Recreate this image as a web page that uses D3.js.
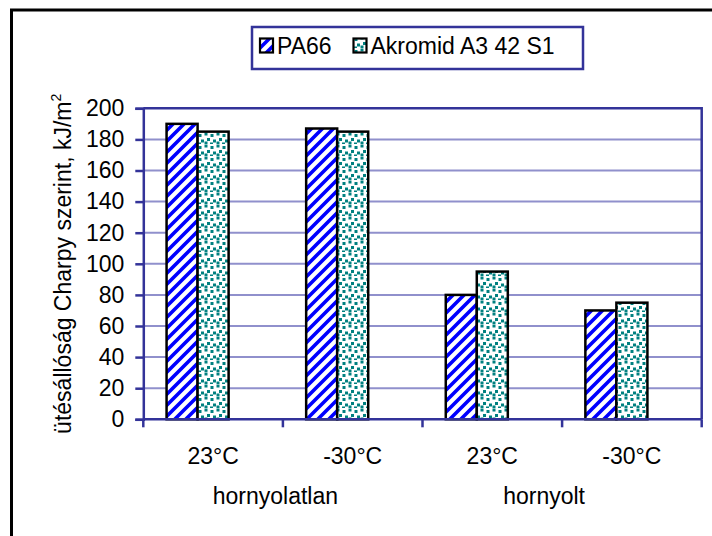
<!DOCTYPE html>
<html>
<head>
<meta charset="utf-8">
<script src="https://cdn.jsdelivr.net/npm/d3@7"></script>
<style>
  html, body { margin: 0; padding: 0; background: #fff; }
  svg { display: block; font-family: Arial, "Liberation Sans", sans-serif; }
</style>
</head>
<body>
<svg id="chart" width="712" height="536"></svg>
<script>
// ---- data ----
const categories = ["23°C", "-30°C", "23°C", "-30°C"];
const groups = [
  { label: "hornyolatlan", from: 0, to: 1 },
  { label: "hornyolt", from: 2, to: 3 }
];
const seriesNames = ["PA66", "Akromid A3 42 S1"];
const pa66 = [190, 187, 80, 70];
const akromid = [185, 185, 95, 75];
const yTicks = [0, 20, 40, 60, 80, 100, 120, 140, 160, 180, 200];
const yTitle = "ütésállóság Charpy szerint, kJ/m";
const yTitleSup = "2";

// ---- layout ----
const W = 712, H = 536;
const plot = { left: 143.3, right: 701.7, top: 108.3, bottom: 419.3 };
const axisColor = "#333399";
const gridColor = "#9090CC";
const fontSize = 23;

const svg = d3.select("#chart");
const defs = svg.append("defs");

// diagonal stripe pattern (PA66)
const stripe = defs.append("pattern")
  .attr("id", "stripe").attr("patternUnits", "userSpaceOnUse")
  .attr("width", 11).attr("height", 11);
stripe.append("rect").attr("width", 11).attr("height", 11).attr("fill", "#fff");
stripe.append("path")
  .attr("d", "M-2,2 L2,-2 M0,11 L11,0 M9,13 L13,9")
  .attr("stroke", "#0000FF").attr("stroke-width", 3.6);

// dotted pattern (Akromid)
const dots = defs.append("pattern")
  .attr("id", "dots").attr("patternUnits", "userSpaceOnUse")
  .attr("width", 12).attr("height", 12);
dots.append("rect").attr("width", 12).attr("height", 12).attr("fill", "#fff");
const dotPos = [[0.5, 0.5], [6.5, 2], [3, 6], [9, 7.5], [0.5, 9.5], [6, 10.5]];
dots.selectAll("rect.d").data(dotPos).enter().append("rect")
  .attr("class", "d").attr("x", d => d[0]).attr("y", d => d[1])
  .attr("width", 3).attr("height", 3).attr("fill", "#008080");

const fills = ["url(#stripe)", "url(#dots)"];

// chart border
svg.append("rect").attr("x", 11.5).attr("y", 10).attr("width", 730).attr("height", 560)
  .attr("fill", "none").attr("stroke", "#000").attr("stroke-width", 3);

// scales
const x = d3.scaleBand().domain(d3.range(categories.length))
  .range([plot.left, plot.right]).paddingInner(0).paddingOuter(0);
// Excel layout: three series slots per category (third slot empty), gap width 150%
const slotCount = 3;
const xs = d3.scaleBand().domain(d3.range(slotCount))
  .range([0, x.bandwidth()]).paddingInner(0).paddingOuter(0.75);
const y = d3.scaleLinear().domain([0, 200]).range([plot.bottom, plot.top]);

// gridlines
svg.append("g").selectAll("line").data(yTicks.filter(t => t > 0 && t < 200)).enter()
  .append("line")
  .attr("x1", plot.left).attr("x2", plot.right)
  .attr("y1", d => y(d)).attr("y2", d => y(d))
  .attr("stroke", gridColor).attr("stroke-width", 2);

// plot border (top + right)
svg.append("path")
  .attr("d", `M${plot.left},${y(200)} H${plot.right} V${plot.bottom}`)
  .attr("fill", "none").attr("stroke", axisColor).attr("stroke-width", 2.5);

// bars
const seriesData = [pa66, akromid];
seriesData.forEach((vals, si) => {
  svg.append("g").selectAll("rect").data(vals).enter().append("rect")
    .attr("x", (d, i) => x(i) + xs(si))
    .attr("y", d => y(d))
    .attr("width", xs.bandwidth())
    .attr("height", d => y(0) - y(d))
    .attr("fill", fills[si])
    .attr("stroke", "#000").attr("stroke-width", 2.5);
});

// y axis
const yAxis = d3.axisLeft(y).tickValues(yTicks).tickSize(8).tickPadding(11);
const gy = svg.append("g").attr("transform", `translate(${plot.left},0)`).call(yAxis);
gy.select(".domain").attr("stroke", axisColor).attr("stroke-width", 2.5);
gy.selectAll(".tick line").attr("stroke", axisColor).attr("stroke-width", 2.5);
gy.selectAll(".tick text").attr("fill", "#000").attr("font-size", fontSize)
  .attr("font-family", "Arial, 'Liberation Sans', sans-serif");

// x axis: ticks at category boundaries
const boundaries = d3.range(categories.length + 1).map(i => i < categories.length ? x(i) : plot.right);
svg.append("line").attr("x1", plot.left).attr("x2", plot.right)
  .attr("y1", y(0)).attr("y2", y(0))
  .attr("stroke", axisColor).attr("stroke-width", 2.5);
svg.append("g").selectAll("line").data(boundaries).enter().append("line")
  .attr("x1", d => d).attr("x2", d => d)
  .attr("y1", y(0)).attr("y2", y(0) + 8)
  .attr("stroke", axisColor).attr("stroke-width", 2.5);

// category labels
svg.append("g").selectAll("text").data(categories).enter().append("text")
  .attr("x", (d, i) => x(i) + x.bandwidth() / 2)
  .attr("y", 463.5)
  .attr("text-anchor", "middle").attr("font-size", fontSize).attr("fill", "#000")
  .text(d => d);

// group labels
const groupDx = [-7.5, -18];
svg.append("g").selectAll("text").data(groups).enter().append("text")
  .attr("x", (g, i) => (x(g.from) + x(g.to) + x.bandwidth()) / 2 + groupDx[i])
  .attr("y", 503.5)
  .attr("text-anchor", "middle").attr("font-size", fontSize).attr("fill", "#000")
  .text(g => g.label);

// y title
const yt = svg.append("text")
  .attr("transform", `translate(71,${(plot.top + plot.bottom) / 2}) rotate(-90)`)
  .attr("text-anchor", "middle").attr("font-size", fontSize).attr("fill", "#000");
yt.append("tspan").text(yTitle);
yt.append("tspan").attr("font-size", 14).attr("dy", -10).text(yTitleSup);

// legend
const lg = svg.append("g");
lg.append("rect").attr("x", 252).attr("y", 27).attr("width", 331).attr("height", 42)
  .attr("fill", "#fff").attr("stroke", axisColor).attr("stroke-width", 2.5);
const legendX = [260, 353.5];
seriesNames.forEach((name, i) => {
  lg.append("rect").attr("x", legendX[i]).attr("y", 38.5).attr("width", 13).attr("height", 14)
    .attr("fill", fills[i]).attr("stroke", "#000").attr("stroke-width", 2.2);
  lg.append("text").attr("x", legendX[i] + 17).attr("y", 53.5)
    .attr("font-size", fontSize).attr("fill", "#000").text(name);
});
</script>
</body>
</html>
